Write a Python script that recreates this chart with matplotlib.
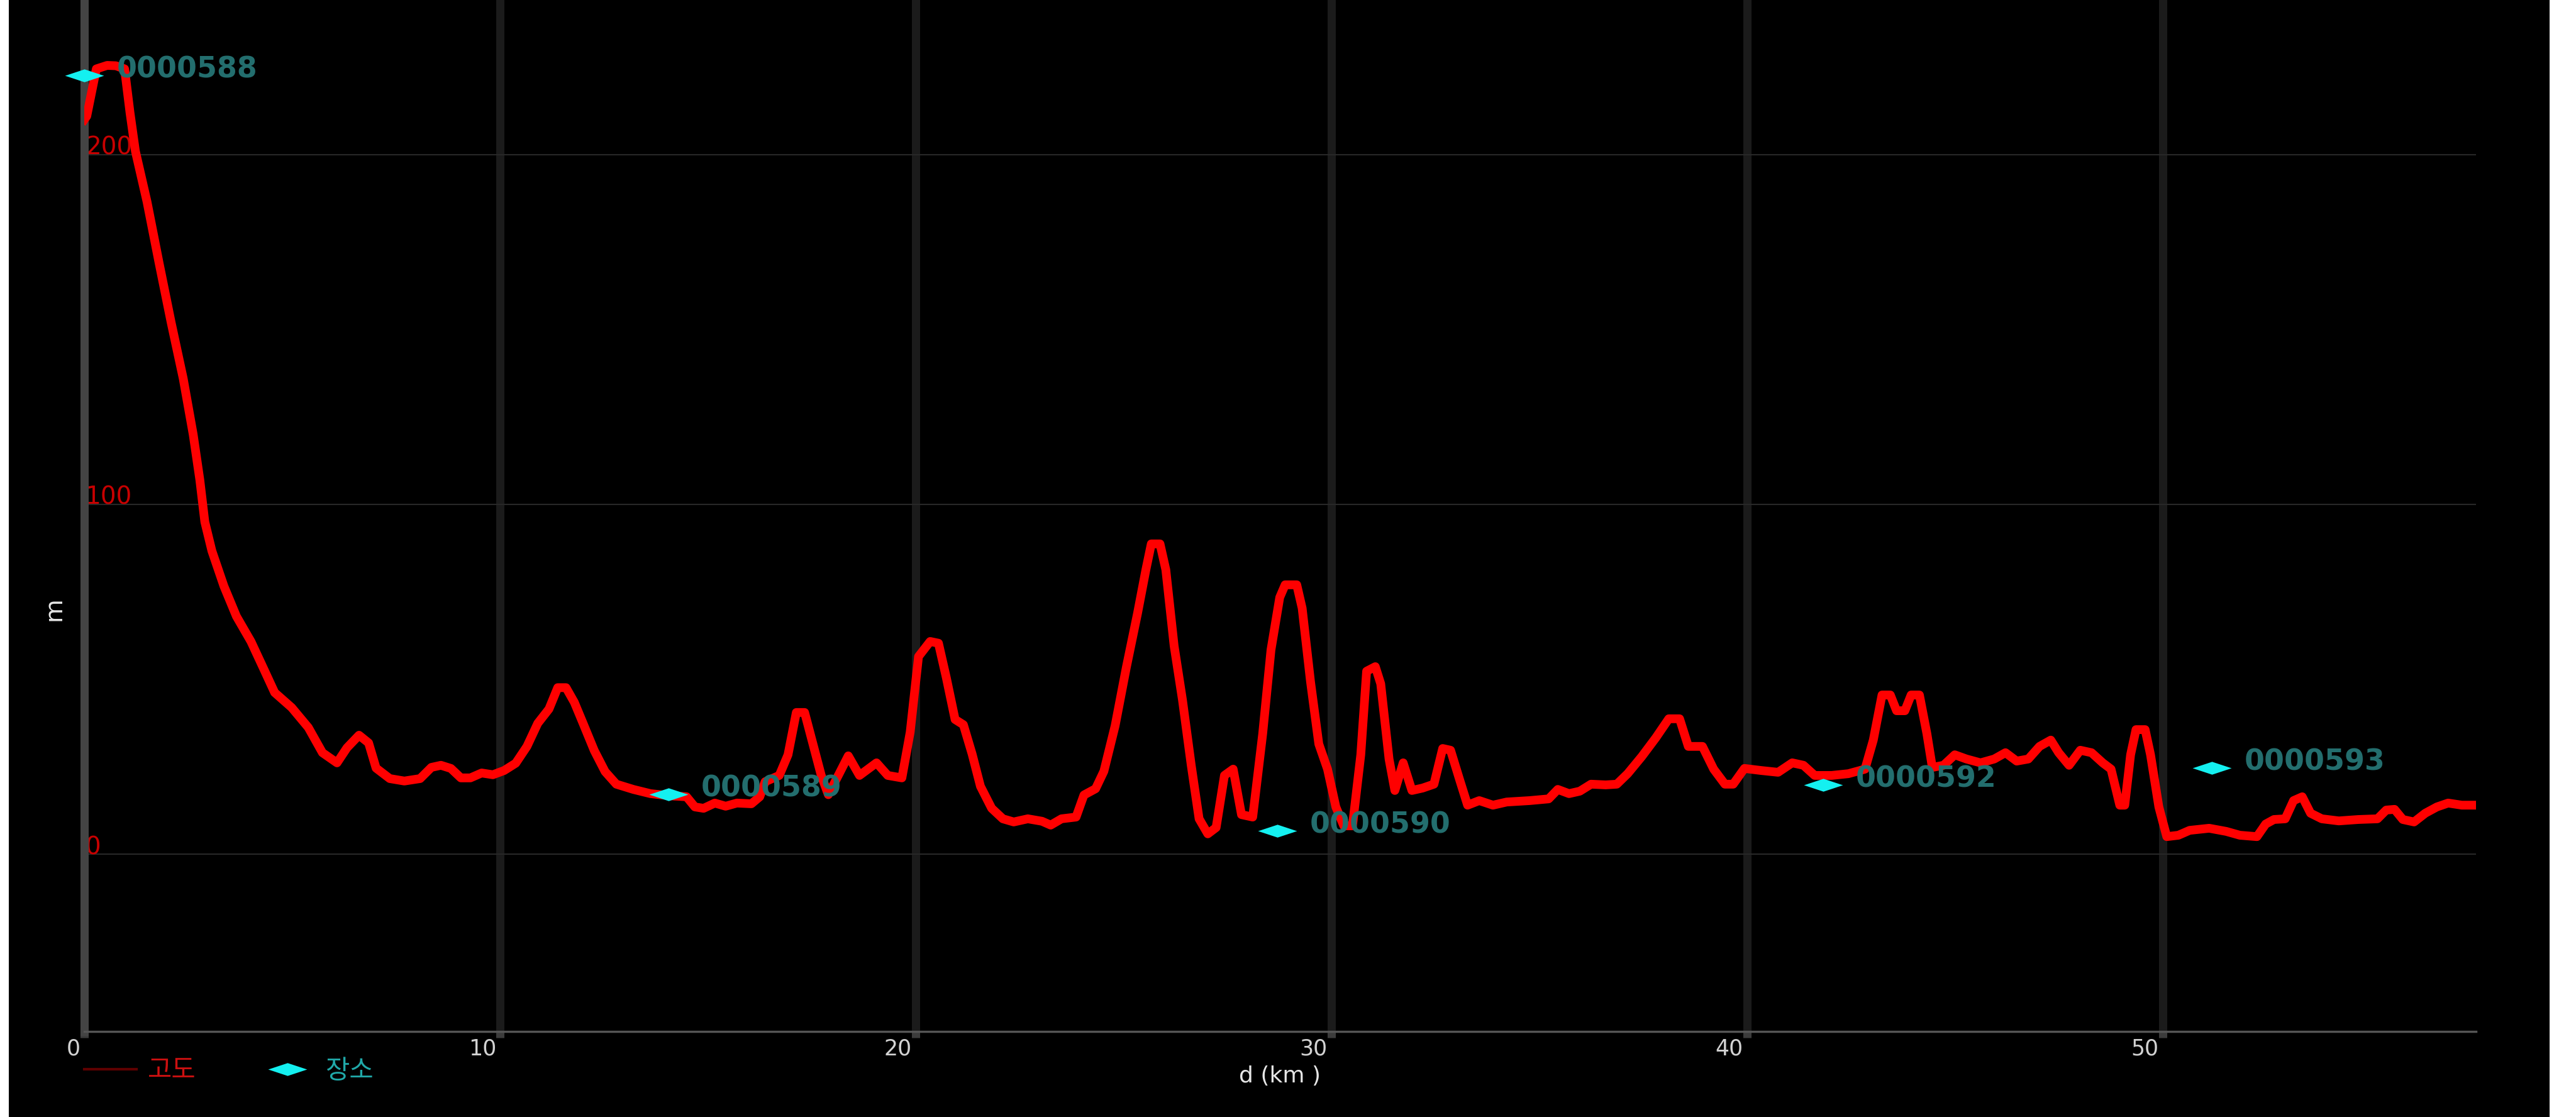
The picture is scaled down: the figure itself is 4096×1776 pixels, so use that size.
import matplotlib
matplotlib.use('Agg')
import matplotlib.pyplot as plt
import matplotlib.transforms as mtransforms
from matplotlib.lines import Line2D
from matplotlib.patches import Rectangle
from matplotlib.path import Path

# ---------------- data ----------------
dist_km = [0.0, 0.06, 0.29, 0.55, 0.76, 0.97, 1.1, 1.23, 1.51, 1.80, 2.09, 2.38, 2.62, 2.78, 2.90,
           3.07, 3.36, 3.66, 4.01, 4.30, 4.58, 4.99, 5.39, 5.73, 6.08, 6.32, 6.61, 6.84, 7.02,
           7.35, 7.70, 8.08, 8.35, 8.58, 8.82, 9.06, 9.29, 9.56, 9.83, 10.1, 10.38, 10.65, 10.91,
           11.18, 11.39, 11.59, 11.79, 12.0, 12.27, 12.53, 12.80, 13.21, 13.62, 14.08, 14.49,
           14.69, 14.90, 15.17, 15.43, 15.70, 16.05, 16.25, 16.38, 16.72, 16.93, 17.13, 17.33,
           17.53, 17.73, 17.9, 18.14, 18.38, 18.65, 19.06, 19.33, 19.67, 19.87, 20.07, 20.35,
           20.55, 20.74, 20.95, 21.15, 21.36, 21.56, 21.83, 22.1, 22.36, 22.7, 23.04, 23.25,
           23.51, 23.86, 24.05, 24.33, 24.53, 24.80, 25.07, 25.34, 25.54, 25.67, 25.88, 26.02,
           26.22, 26.42, 26.63, 26.82, 27.03, 27.23, 27.43, 27.64, 27.84, 28.11, 28.35, 28.55,
           28.76, 28.89, 29.17, 29.30, 29.5, 29.70, 29.91, 30.11, 30.30, 30.51, 30.71, 30.85,
           31.06, 31.19, 31.39, 31.53, 31.73, 31.94, 32.2, 32.47, 32.68, 32.87, 33.09, 33.28,
           33.56, 33.89, 34.22, 34.77, 35.23, 35.45, 35.72, 35.98, 36.25, 36.6, 36.87, 37.13,
           37.47, 37.81, 38.12, 38.38, 38.59, 38.93, 39.2, 39.47, 39.67, 39.94, 40.35, 40.75,
           41.09, 41.36, 41.63, 42.04, 42.44, 42.84, 43.04, 43.25, 43.45, 43.6, 43.8, 43.95,
           44.15, 44.33, 44.46, 44.73, 45.0, 45.28, 45.62, 45.95, 46.22, 46.49, 46.77, 47.04,
           47.31, 47.5, 47.75, 48.02, 48.29, 48.56, 48.76, 48.97, 49.09, 49.23, 49.36, 49.58,
           49.71, 49.91, 50.1, 50.38, 50.65, 51.12, 51.53, 51.86, 52.27, 52.48, 52.68, 52.95,
           53.15, 53.36, 53.56, 53.83, 54.24, 54.71, 55.17, 55.38, 55.58, 55.78, 56.05, 56.32,
           56.6, 56.87, 57.2, 57.5]
elev_m = [210, 211, 224.5, 225.5, 225.4, 224.5, 212, 201, 186.5, 169, 152, 136, 120, 107, 95,
          86.7, 76.6, 68, 60.8, 53.4, 46.2, 41.9, 36.2, 29, 26.1, 30.4, 34, 31.8, 24.6,
          21.6, 20.9, 21.6, 24.8, 25.4, 24.5, 21.8, 21.8, 23.2, 22.7, 23.9, 26, 30.8, 37.4,
          41.5, 47.6, 47.6, 43.4, 37.4, 29.6, 23.6, 20, 18.5, 17.3, 16.7, 16.4,
          13.5, 13.1, 14.6, 13.7, 14.6, 14.4, 16.4, 20.7, 22.5, 28.4, 40.5, 40.5,
          31.5, 22.5, 17, 22.5, 28.1, 22.5, 26.1, 22.5, 21.8, 34.9, 56.5, 60.8,
          60.3, 50.4, 38.5, 37, 28.6, 19.4, 13.1, 10.1, 9.2, 10.1, 9.4, 8.3,
          10.1, 10.6, 16.9, 18.7, 23.7, 36.7, 53.4, 68.9, 81.3, 88.7, 88.7, 81.3,
          59.5, 44.1, 25.5, 10.1, 5.8, 7.6, 22.5, 24.3, 11.3, 10.6, 34.4, 58.4,
          73.4, 77, 77, 70.3, 49.4, 31.5, 24.3, 13.5, 8.1, 8.1, 28.4, 52.3,
          53.6, 48.7, 27.2, 18.2, 26.1, 18.2, 18.9, 20, 30.2, 29.7, 21.2, 14,
          15.3, 14, 14.9, 15.3, 15.8, 18.5, 17.3, 18, 20, 19.8, 20, 23,
          27.9, 33.3, 38.7, 38.7, 30.8, 30.8, 24.3, 20, 20, 24.5, 23.9, 23.4,
          26.1, 25.4, 22.5, 22.5, 23, 24.3, 32.6, 45.5, 45.5, 41, 41, 45.5,
          45.5, 34.4, 24.8, 25.4, 28.4, 27.2, 26.1, 27.2, 29, 26.6, 27.2, 30.8,
          32.6, 29, 25.4, 29.7, 29, 26.1, 24.3, 14, 14, 28.4, 35.6, 35.6,
          28.4, 13.5, 5, 5.4, 6.8, 7.4, 6.5, 5.4, 5, 8.6, 9.9, 10.1,
          15.3, 16.4, 11.7, 10.1, 9.5, 9.9, 10.1, 12.6, 12.8, 9.9, 9.2, 11.7,
          13.5, 14.6, 14, 14]

station_names = ['0000588', '0000589', '0000590', '0000592', '0000593']
station_km = [0.0, 14.05, 28.7, 41.83, 51.18]
station_m = [222.7, 17.1, 6.7, 19.8, 24.6]

series_names = ['고도', '장소']
x_ticks = [0, 10, 20, 30, 40, 50]
y_ticks = [0, 100, 200]
x_label = 'd (km )'
y_label = 'm'

# ---------------- figure ----------------
W, H, DPI = 4096, 1776, 100
fig = plt.figure(figsize=(W / DPI, H / DPI), dpi=DPI)
fig.patch.set_facecolor('white')
fig.add_artist(Rectangle((14 / W, 0), (4054 - 14) / W, 1, transform=fig.transFigure,
                         facecolor='black', edgecolor='none', zorder=-100))

ax = fig.add_axes([134 / W, 1 - 1640 / H, (3937 - 134) / W, 1640 / H])
ax.set_facecolor('black')
ax.set_xlim(0, 57.54)
ax.set_ylim(-50.7, 244.2)

diamond = Path([(-1, 0), (0, 0.33), (1, 0), (0, -0.33), (-1, 0)],
               [Path.MOVETO, Path.LINETO, Path.LINETO, Path.LINETO, Path.CLOSEPOLY])

ax.plot(dist_km, elev_m, color='#ff0000', lw=10, solid_joinstyle='round', zorder=3)
ax.plot(station_km, station_m, ls='none', marker=diamond, ms=44.6, color='#14f0f0',
        mec='none', zorder=5, clip_on=False)
for name, x, y in zip(station_names, station_km, station_m):
    ax.annotate(name, (x, y), xytext=(37.4, 6.5), textcoords='offset points',
                ha='left', va='center', color='#236e6e', fontsize=33,
                fontweight='bold', zorder=6)

ax.set_xticks(x_ticks)
ax.set_yticks(y_ticks)
ax.set_axisbelow(True)
ax.grid(axis='x', color='#1b1b1b', lw=9.4)
ax.grid(axis='y', color='#282828', lw=1.5)

for s in ('top', 'right'):
    ax.spines[s].set_visible(False)
ax.spines['left'].set_color('#444444')
ax.spines['left'].set_linewidth(9.4)
ax.spines['bottom'].set_color('#555555')
ax.spines['bottom'].set_linewidth(2.5)

ax.tick_params(axis='x', labelcolor='#d2d2d2', labelsize=25, pad=0, length=7.2,
               width=9.4, color='#3c3c3c')
ax.tick_params(axis='y', labelcolor='#c80000', labelsize=28, pad=-5.0, length=3.6,
               width=1.5, color='#aa0000')

xoff = mtransforms.ScaledTranslation(-6 / DPI, 0, fig.dpi_scale_trans)
for lab in ax.get_xticklabels():
    lab.set_ha('right')
    lab.set_transform(lab.get_transform() + xoff)
for lab in ax.get_yticklabels():
    lab.set_ha('left')
    lab.set_va('baseline')

ax.set_xlabel(x_label, color='#e6e6e6', fontsize=26)
ax.xaxis.set_label_coords(0.5, (1640 - 1694) / 1640)
ax.xaxis.label.set_va('top')
ax.set_ylabel(y_label, color='#e6e6e6', fontsize=28)
ax.yaxis.set_label_coords((85 - 134) / 3803, (1640 - 968) / 1640)
ax.yaxis.label.set_va('center')

handles = [Line2D([], [], color='#5e0000', lw=3),
           Line2D([], [], ls='none', marker=diamond, ms=44.6, color='#14f0f0', mec='none')]
fig.legend(handles, series_names, loc='center left',
           bbox_to_anchor=(134 / W, 1 - 1703 / H), ncol=2, frameon=False,
           prop={'family': ['Noto Sans CJK KR', 'DejaVu Sans'], 'size': 30},
           labelcolor=['#cc1010', '#20a8a8'], handlelength=2.0, handletextpad=0.42,
           columnspacing=2.5, borderpad=0, borderaxespad=0)

fig.savefig('out.png', dpi=DPI, facecolor=fig.get_facecolor())
